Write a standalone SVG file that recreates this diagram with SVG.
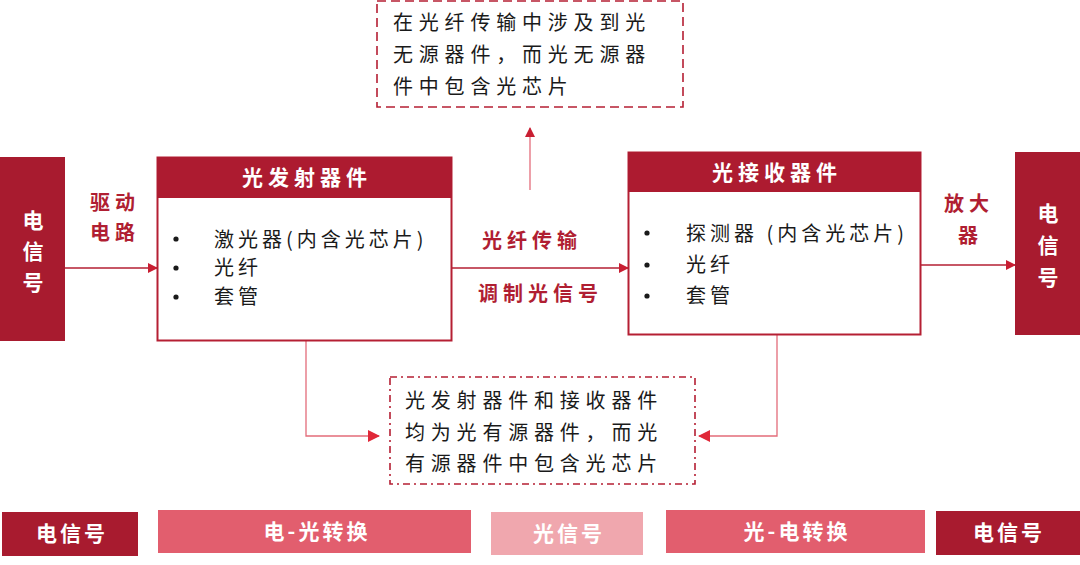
<svg xmlns="http://www.w3.org/2000/svg" width="1080" height="565" viewBox="0 0 1080 565">
<style>
text{font-family:"Noto Sans CJK SC","Noto Sans",sans-serif}
.blk{fill:#1a1a1a;font-size:20px;letter-spacing:4px}
.dot{fill:#1a1a1a}
.red{fill:#b01e32;font-size:20px;font-weight:bold;letter-spacing:5px}
.hd{fill:#fff;font-size:21px;font-weight:bold;letter-spacing:5px;text-anchor:middle}
.vt{fill:#fff;font-size:21px;font-weight:bold;text-anchor:middle}
.note{fill:#1a1a1a;font-size:20px;letter-spacing:5.8px}
.bar{fill:#fff;font-size:21px;font-weight:bold;text-anchor:middle;letter-spacing:3px}
.main{stroke:#b51f33;stroke-width:1.3;fill:none}
.thin{stroke:#e36c7a;stroke-width:1.3;fill:none}
</style>
<defs>
<marker id="ah" markerWidth="10" markerHeight="10" refX="9" refY="5" orient="auto" markerUnits="userSpaceOnUse">
<path d="M0,0 L10,5 L0,10 Z" fill="#c81e32"/>
</marker>
<marker id="ah2" markerWidth="12" markerHeight="12" refX="11" refY="6" orient="auto" markerUnits="userSpaceOnUse">
<path d="M0,0 L12,6 L0,12 Z" fill="#e02838"/>
</marker>
</defs>

<g id="connectors">
<line class="main" x1="65" y1="268" x2="157" y2="268" marker-end="url(#ah)"/>
<line class="main" x1="452" y1="268" x2="628" y2="268" marker-end="url(#ah)"/>
<line class="main" x1="921" y1="265" x2="1015" y2="265" marker-end="url(#ah)"/>
<line class="thin" x1="530" y1="190" x2="530" y2="128" marker-end="url(#ah)"/>
<polyline class="thin" points="306,341 306,436 379,436" marker-end="url(#ah2)"/>
<polyline class="thin" points="777,335 777,436 699,436" marker-end="url(#ah2)"/>
</g>

<g id="label-drive">
<text class="red" x="90" y="210">驱动</text>
<text class="red" x="90" y="240">电路</text>
</g>
<g id="label-fiber">
<text class="red" x="482" y="248">光纤传输</text>
<text class="red" x="478" y="301">调制光信号</text>
</g>
<g id="label-amp">
<text class="red" x="944" y="211">放大</text>
<text class="red" x="958" y="243">器</text>
</g>

<g id="node-elec-left">
<rect x="0" y="157" width="65" height="184" fill="#a81b2f"/>
<text class="vt" x="33" y="228">电</text>
<text class="vt" x="33" y="259">信</text>
<text class="vt" x="33" y="290">号</text>
</g>

<g id="node-emitter">
<rect x="157.5" y="157.5" width="294" height="183" fill="#fff" stroke="#b51f33" stroke-width="2"/>
<rect x="157" y="157" width="295" height="41" fill="#ad1b30"/>
<text class="hd" x="307" y="185">光发射器件</text>
<circle class="dot" cx="176" cy="239" r="2.6"/>
<circle class="dot" cx="176" cy="268" r="2.6"/>
<circle class="dot" cx="176" cy="297" r="2.6"/>
<text class="blk" x="214" y="247">激光器(内含光芯片)</text>
<text class="blk" x="214" y="275">光纤</text>
<text class="blk" x="214" y="304">套管</text>
</g>

<g id="node-receiver">
<rect x="628.5" y="152.5" width="292" height="182" fill="#fff" stroke="#b51f33" stroke-width="2"/>
<rect x="628" y="152" width="293" height="40" fill="#ad1b30"/>
<text class="hd" x="777" y="180">光接收器件</text>
<circle class="dot" cx="647" cy="233" r="2.6"/>
<circle class="dot" cx="647" cy="265" r="2.6"/>
<circle class="dot" cx="647" cy="296" r="2.6"/>
<text class="blk" x="686" y="241">探测器 (内含光芯片)</text>
<text class="blk" x="686" y="272">光纤</text>
<text class="blk" x="686" y="303">套管</text>
</g>

<g id="node-elec-right">
<rect x="1015" y="152" width="65" height="183" fill="#a81b2f"/>
<text class="vt" x="1048" y="221">电</text>
<text class="vt" x="1048" y="253">信</text>
<text class="vt" x="1048" y="285">号</text>
</g>

<g id="note-passive">
<rect x="377" y="1" width="306" height="106" fill="#fff" stroke="#b51f33" stroke-width="1.6" stroke-dasharray="9,5"/>
<text class="note" x="393" y="30">在光纤传输中涉及到光</text>
<text class="note" x="393" y="62">无源器件，而光无源器</text>
<text class="note" x="393" y="94">件中包含光芯片</text>
</g>

<g id="note-active">
<rect x="390" y="377" width="305" height="107" fill="#fff" stroke="#b51f33" stroke-width="1.6" stroke-dasharray="7,4,2,4"/>
<text class="note" x="405" y="408">光发射器件和接收器件</text>
<text class="note" x="405" y="440">均为光有源器件，而光</text>
<text class="note" x="405" y="471">有源器件中包含光芯片</text>
</g>

<g id="bar-elec-1">
<rect x="2" y="512" width="136" height="44" fill="#a81b2f"/>
<text class="bar" x="72" y="541">电信号</text>
</g>
<g id="bar-eo">
<rect x="158" y="510" width="313" height="43" fill="#e25e6e"/>
<text class="bar" x="317" y="539">电-光转换</text>
</g>
<g id="bar-optical">
<rect x="491" y="512" width="152" height="43" fill="#f0a7ae"/>
<text class="bar" x="569" y="541">光信号</text>
</g>
<g id="bar-oe">
<rect x="666" y="510" width="259" height="43" fill="#e25e6e"/>
<text class="bar" x="797" y="539">光-电转换</text>
</g>
<g id="bar-elec-2">
<rect x="936" y="511" width="144" height="44" fill="#a81b2f"/>
<text class="bar" x="1009" y="540">电信号</text>
</g>
</svg>
